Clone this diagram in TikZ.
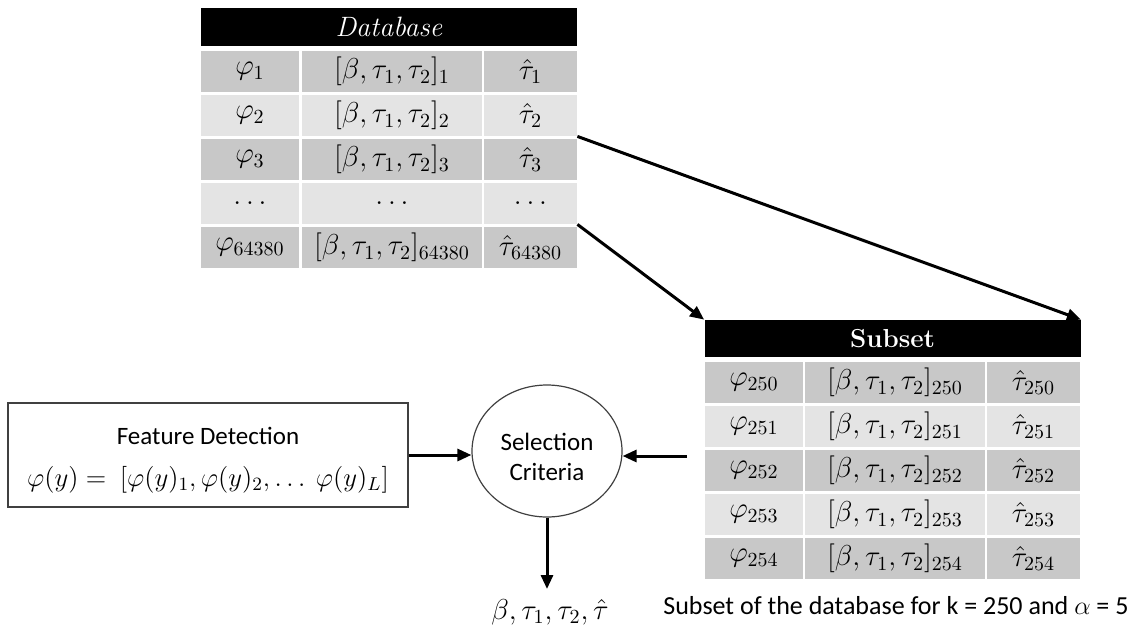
\RequirePackage{fix-cm}
\documentclass[tikz,border=0pt]{standalone}
\usepackage{fontspec}
\setsansfont{Carlito}
\usetikzlibrary{arrows.meta,shapes.geometric}

\definecolor{zeiledunkel}{HTML}{C8C8C8}
\definecolor{zeilehell}{HTML}{E4E4E4}

\tikzset{
  zelle/.style={inner sep=0pt, minimum height=20.5pt, font=\fontsize{14.4}{17}\selectfont},
  spA/.style={zelle, minimum width=49pt},
  spB/.style={zelle, minimum width=90pt},
  spC/.style={zelle, minimum width=46.5pt},
  dunkel/.style={fill=zeiledunkel},
  hell/.style={fill=zeilehell},
  kopf/.style={fill=black, text=white, inner sep=0pt, minimum width=188pt,
    minimum height=19pt, font=\fontsize{13}{15}\selectfont},
  pfeil/.style={line width=1.5pt, -{Triangle[length=7pt,width=6pt]}},
  textsf/.style={font=\sffamily\fontsize{12.5}{15}\selectfont}
}

\begin{document}
\begin{tikzpicture}[x=0.5pt,y=-0.5pt]

  \useasboundingbox (0,0) rectangle (1134,627);

  % Datenbank
  \node[kopf,font=\fontsize{14}{16}\selectfont] (dk) at (389,26.5) {\textit{Database}};

  \node[spA,dunkel] (d11) at (250,71.5)  {$\varphi_1$};
  \node[spB,dunkel] (d12) at (392,71.5)  {$[\beta,\tau_1,\tau_2]_1$};
  \node[spC,dunkel] (d13) at (530.5,71.5) {$\hat\tau_1$};

  \node[spA,hell] (d21) at (250,115.5)  {$\varphi_2$};
  \node[spB,hell] (d22) at (392,115.5)  {$[\beta,\tau_1,\tau_2]_2$};
  \node[spC,hell] (d23) at (530.5,115.5) {$\hat\tau_2$};

  \node[spA,dunkel] (d31) at (250,159.5)  {$\varphi_3$};
  \node[spB,dunkel] (d32) at (392,159.5)  {$[\beta,\tau_1,\tau_2]_3$};
  \node[spC,dunkel] (d33) at (530.5,159.5) {$\hat\tau_3$};

  \node[spA,hell] (d41) at (250,203.5)  {$\dots$};
  \node[spB,hell] (d42) at (392,203.5)  {$\dots$};
  \node[spC,hell] (d43) at (530.5,203.5) {$\dots$};

  \node[spA,dunkel] (d51) at (250,247.5)  {$\varphi_{64380}$};
  \node[spB,dunkel] (d52) at (392,247.5)  {$[\beta,\tau_1,\tau_2]_{64380}$};
  \node[spC,dunkel] (d53) at (530.5,247.5) {$\hat\tau_{64380}$};

  % Teilmenge
  \node[kopf,minimum height=18.5pt] (sk) at (892.5,338.5) {\textbf{Subset}};

  \node[spA,dunkel] (s11) at (754,382.5)    {$\varphi_{250}$};
  \node[spB,dunkel] (s12) at (895,382.5)    {$[\beta,\tau_1,\tau_2]_{250}$};
  \node[spC,dunkel] (s13) at (1033.5,382.5) {$\hat\tau_{250}$};

  \node[spA,hell] (s21) at (754,426.5)    {$\varphi_{251}$};
  \node[spB,hell] (s22) at (895,426.5)    {$[\beta,\tau_1,\tau_2]_{251}$};
  \node[spC,hell] (s23) at (1033.5,426.5) {$\hat\tau_{251}$};

  \node[spA,dunkel] (s31) at (754,470.5)    {$\varphi_{252}$};
  \node[spB,dunkel] (s32) at (895,470.5)    {$[\beta,\tau_1,\tau_2]_{252}$};
  \node[spC,dunkel] (s33) at (1033.5,470.5) {$\hat\tau_{252}$};

  \node[spA,hell] (s41) at (754,514.5)    {$\varphi_{253}$};
  \node[spB,hell] (s42) at (895,514.5)    {$[\beta,\tau_1,\tau_2]_{253}$};
  \node[spC,hell] (s43) at (1033.5,514.5) {$\hat\tau_{253}$};

  \node[spA,dunkel] (s51) at (754,558.5)    {$\varphi_{254}$};
  \node[spB,dunkel] (s52) at (895,558.5)    {$[\beta,\tau_1,\tau_2]_{254}$};
  \node[spC,dunkel] (s53) at (1033.5,558.5) {$\hat\tau_{254}$};

  \node[textsf,font=\sffamily\fontsize{13}{15}\selectfont,anchor=west,inner sep=0pt]
    (unterschrift) at (663,606)
    {Subset of the database for k = 250 and $\alpha$ = 5};

  % Merkmalserkennung und Auswahl
  \node[textsf,draw=black!75,line width=0.7pt,minimum width=200pt,minimum height=52pt,
    align=center] (merkmal) at (208,455)
    {\rule{0pt}{14pt}Feature Detection\\[6pt]
     \fontsize{13.4}{16}\selectfont
     $\varphi(y) =\ [\varphi(y)_1,\varphi(y)_2,\dots\ \varphi(y)_L]$};

  \node[textsf,draw=black!75,line width=0.6pt,ellipse,minimum width=75pt,
    minimum height=66pt,inner sep=0pt,align=center] (auswahl) at (547,451)
    {\rule{0pt}{15pt}Selection\\Criteria};

  \node[anchor=north,inner sep=0pt,font=\fontsize{14.4}{17}\selectfont] (ergebnis)
    at (550,599) {$\beta,\tau_1,\tau_2,\hat\tau$};

  \coordinate (rein) at (687,456);

  % Pfeile
  \draw[pfeil] (d23.south east) -- (sk.north east);
  \draw[pfeil] (d43.south east) -- (sk.north west);
  \draw[pfeil] (merkmal.east) -- (merkmal.east -| auswahl.west);
  \draw[pfeil] (rein) -- (rein -| auswahl.east);
  \draw[pfeil] (auswahl.south) -- ([yshift=5pt]auswahl.south |- ergebnis.north);

\end{tikzpicture}
\end{document}
